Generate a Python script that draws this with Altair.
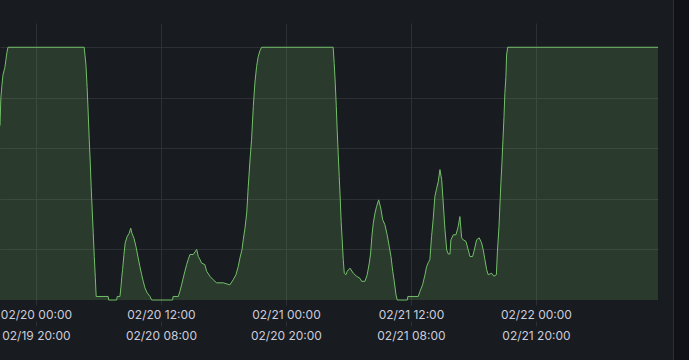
import altair as alt
import pandas as pd

# ---- data (UTC timestamps, value) ----
times = [
    "2024-02-19 20:33", "2024-02-19 20:38", "2024-02-19 20:44", "2024-02-19 20:50",
    "2024-02-19 21:01", "2024-02-19 21:07", "2024-02-19 21:13", "2024-02-19 21:19",
    "2024-02-20 04:38", "2024-02-20 04:48", "2024-02-20 04:55", "2024-02-20 05:01",
    "2024-02-20 05:07", "2024-02-20 05:13", "2024-02-20 05:18", "2024-02-20 05:24",
    "2024-02-20 05:30", "2024-02-20 05:36", "2024-02-20 05:42", "2024-02-20 05:47",
    "2024-02-20 06:56", "2024-02-20 06:59", "2024-02-20 07:45", "2024-02-20 07:48",
    "2024-02-20 08:04", "2024-02-20 08:10", "2024-02-20 08:14", "2024-02-20 08:19",
    "2024-02-20 08:27", "2024-02-20 08:34", "2024-02-20 08:46", "2024-02-20 08:57",
    "2024-02-20 09:06", "2024-02-20 09:13", "2024-02-20 09:25", "2024-02-20 09:36",
    "2024-02-20 09:49", "2024-02-20 09:59", "2024-02-20 10:09", "2024-02-20 10:18",
    "2024-02-20 10:28", "2024-02-20 10:41", "2024-02-20 10:57", "2024-02-20 11:06",
    "2024-02-20 13:07", "2024-02-20 13:10", "2024-02-20 13:40", "2024-02-20 13:49",
    "2024-02-20 13:59", "2024-02-20 14:08", "2024-02-20 14:18", "2024-02-20 14:28",
    "2024-02-20 14:37", "2024-02-20 14:47", "2024-02-20 15:06", "2024-02-20 15:16",
    "2024-02-20 15:26", "2024-02-20 15:35", "2024-02-20 15:45", "2024-02-20 15:54",
    "2024-02-20 16:13", "2024-02-20 16:23", "2024-02-20 16:42", "2024-02-20 17:01",
    "2024-02-20 17:21", "2024-02-20 17:59", "2024-02-20 18:37", "2024-02-20 18:56",
    "2024-02-20 19:12", "2024-02-20 19:25", "2024-02-20 19:35", "2024-02-20 19:47",
    "2024-02-20 19:54", "2024-02-20 20:04", "2024-02-20 20:14", "2024-02-20 20:23",
    "2024-02-20 20:33", "2024-02-20 20:42", "2024-02-20 20:52", "2024-02-20 21:01",
    "2024-02-20 21:11", "2024-02-20 21:20", "2024-02-20 21:30", "2024-02-20 21:40",
    "2024-02-21 04:32", "2024-02-21 04:38", "2024-02-21 04:44", "2024-02-21 04:50",
    "2024-02-21 04:55", "2024-02-21 05:01", "2024-02-21 05:07", "2024-02-21 05:13",
    "2024-02-21 05:18", "2024-02-21 05:24", "2024-02-21 05:30", "2024-02-21 05:36",
    "2024-02-21 05:46", "2024-02-21 05:53", "2024-02-21 06:09", "2024-02-21 06:28",
    "2024-02-21 06:47", "2024-02-21 07:06", "2024-02-21 07:16", "2024-02-21 07:35",
    "2024-02-21 07:48", "2024-02-21 08:00", "2024-02-21 08:08", "2024-02-21 08:15",
    "2024-02-21 08:23", "2024-02-21 08:33", "2024-02-21 08:42", "2024-02-21 08:54",
    "2024-02-21 09:06", "2024-02-21 09:17", "2024-02-21 09:30", "2024-02-21 09:43",
    "2024-02-21 09:55", "2024-02-21 10:05", "2024-02-21 10:15", "2024-02-21 10:24",
    "2024-02-21 10:34", "2024-02-21 10:41", "2024-02-21 11:39", "2024-02-21 11:42",
    "2024-02-21 12:42", "2024-02-21 12:52", "2024-02-21 13:07", "2024-02-21 13:21",
    "2024-02-21 13:30", "2024-02-21 13:40", "2024-02-21 13:49", "2024-02-21 13:59",
    "2024-02-21 14:08", "2024-02-21 14:18", "2024-02-21 14:28", "2024-02-21 14:37",
    "2024-02-21 14:47", "2024-02-21 14:57", "2024-02-21 15:06", "2024-02-21 15:16",
    "2024-02-21 15:26", "2024-02-21 15:35", "2024-02-21 15:45", "2024-02-21 15:50",
    "2024-02-21 16:04", "2024-02-21 16:19", "2024-02-21 16:32", "2024-02-21 16:42",
    "2024-02-21 16:52", "2024-02-21 17:01", "2024-02-21 17:17", "2024-02-21 17:30",
    "2024-02-21 17:40", "2024-02-21 17:55", "2024-02-21 18:05", "2024-02-21 18:18",
    "2024-02-21 18:33", "2024-02-21 18:47", "2024-02-21 18:56", "2024-02-21 19:06",
    "2024-02-21 19:16", "2024-02-21 19:25", "2024-02-21 19:45", "2024-02-21 19:58",
    "2024-02-21 20:12", "2024-02-21 20:18", "2024-02-21 20:27", "2024-02-21 20:33",
    "2024-02-21 20:38", "2024-02-21 20:44", "2024-02-21 20:50", "2024-02-21 20:56",
    "2024-02-21 21:01", "2024-02-21 21:07", "2024-02-21 21:11", "2024-02-21 21:17",
    "2024-02-22 11:43",
]
values = [
    3.45, 4.0, 4.25, 4.45, 4.6, 4.75, 4.9, 5.0,
    5.0, 4.65, 4.2, 3.7, 3.17, 2.71, 2.25, 1.78, 1.33, 0.86, 0.44, 0.07,
    0.07, 0.0, 0.0, 0.07, 0.07, 0.27, 0.44, 0.6, 0.9, 1.13, 1.26, 1.32,
    1.42, 1.32, 1.22, 1.06, 0.83, 0.66, 0.5, 0.37, 0.24, 0.14, 0.07, 0.0,
    0.0, 0.07, 0.07, 0.17, 0.3, 0.43, 0.57, 0.7, 0.8, 0.9, 0.9, 0.95,
    1.0, 0.86, 0.8, 0.73, 0.7, 0.57, 0.47, 0.4, 0.34, 0.34, 0.3, 0.4,
    0.5, 0.66, 0.83, 1.0, 1.19, 1.42, 1.72, 2.25, 2.77, 3.17, 3.83, 4.29,
    4.62, 4.81, 4.93, 5.0,
    5.0, 4.68, 4.29, 3.83, 3.37, 2.9, 2.44, 1.98, 1.55, 1.19, 0.8, 0.53,
    0.5, 0.57, 0.63, 0.53, 0.47, 0.43, 0.37, 0.37, 0.5, 0.73, 0.93, 1.26,
    1.52, 1.72, 1.85, 1.98, 1.82, 1.59, 1.49, 1.29, 1.06, 0.86, 0.57, 0.37,
    0.1, 0.0, 0.0, 0.07, 0.07, 0.17, 0.3, 0.5, 0.66, 0.74, 0.8, 1.26,
    1.59, 2.05, 2.21, 2.34, 2.58, 2.38, 1.92, 1.39, 0.99, 0.91, 0.91, 1.19,
    1.29, 1.29, 1.45, 1.65, 1.23, 1.19, 1.16, 0.99, 0.86, 0.86, 0.99, 1.19,
    1.23, 1.13, 1.0, 0.8, 0.6, 0.5, 0.53, 0.47, 0.5, 0.95, 1.45, 1.92,
    2.31, 2.71, 3.17, 3.63, 4.09, 4.42, 4.85, 5.0,
    5.0,
]
tick_times = ["2024-02-20 00:00", "2024-02-20 12:00", "2024-02-21 00:00",
              "2024-02-21 12:00", "2024-02-22 00:00"]
y_ticks = [1, 2, 3, 4, 5]
x_start = "2024-02-19 20:33"
x_end = "2024-02-22 11:43"
local_offset_ms = -4 * 3600 * 1000

BG = "#181b1f"
GRID = "#2c2f34"
TXT = "#ccccdc"
GREEN = "#73bf69"


def ms(s):
    return int(pd.Timestamp(s, tz="UTC").value // 10**6)


df = pd.DataFrame({"t": [ms(s) for s in times], "v": values})
tick_ms = [ms(s) for s in tick_times]

x_scale = alt.Scale(type="utc", domain=[ms(x_start), ms(x_end)], nice=False)
y_scale = alt.Scale(domain=[0, 5.48], nice=False, zero=True)

y_axis = alt.Axis(values=y_ticks, grid=True, gridColor=GRID, labels=False,
                  ticks=False, domain=False, title=None)

common_x = dict(values=tick_ms, title=None, domain=False, tickColor=GRID,
                tickSize=5, labelPadding=4, labelColor=TXT, labelFont="Inter",
                labelFontSize=12, labelFlush=False, labelOverlap=False,
                labelBound=False, orient="bottom")

axis_utc = alt.Axis(labelExpr="utcFormat(datum.value, '%m/%d %H:%M')",
                    grid=True, gridColor=GRID, **common_x)
axis_local = alt.Axis(
    labelExpr=f"utcFormat(time(datum.value) + ({local_offset_ms}), '%m/%d %H:%M')",
    grid=False, offset=21, **common_x)

base = alt.Chart(df)

area = base.mark_area(color=GREEN, fillOpacity=0.2).encode(
    x=alt.X("t:T", scale=x_scale, axis=axis_utc),
    y=alt.Y("v:Q", scale=y_scale, axis=y_axis),
)
line = base.mark_line(color=GREEN, strokeWidth=1).encode(
    x=alt.X("t:T", scale=x_scale, axis=axis_local),
    y=alt.Y("v:Q", scale=y_scale, axis=y_axis),
)

one = pd.DataFrame({"k": [0]})
side = alt.Chart(one).mark_rect(color="#111217").encode(
    x=alt.value(673), x2=alt.value(720), y=alt.value(-30), y2=alt.value(400))
edge = alt.Chart(one).mark_rule(color="#2a2d33", strokeWidth=1).encode(
    x=alt.value(673.5), y=alt.value(-30), y2=alt.value(400))

chart = alt.layer(side, edge, area, line).resolve_axis(x="independent").properties(
    width=658, height=277,
    padding={"left": 0, "top": 23, "right": 31, "bottom": 60},
    autosize=alt.AutoSizeParams(type="none"),
    background=BG,
).configure_view(stroke=None)

chart.save("out.html", embed_options={"renderer": "svg", "actions": False})
